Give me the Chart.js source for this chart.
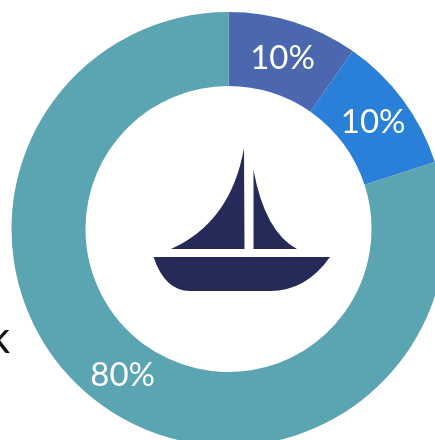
<!DOCTYPE html>
<html>
<head>
<meta charset="utf-8">
<script src="https://cdn.jsdelivr.net/npm/chart.js@4"></script>
<style>
html, body { margin: 0; padding: 0; background: #fff; overflow: hidden; width: 435px; height: 440px; }
#donut { position: absolute; left: 0; top: 0; }
#boat { position: absolute; left: 0; top: 0; }
#cut { position: absolute; left: -16px; top: 306px; width: 26px; text-align: right; font: 400 44px Lato, sans-serif; color: #111; line-height: 60px; }
</style>
</head>
<body>
<canvas id="donut" width="457" height="458"></canvas>
<svg id="boat" width="435" height="440" fill="#262a58">
    <path d="M244 148 L244.5 249 L171 249 Q231 222 244 148 Z"/>
    <path d="M253.5 170 L253.5 249 L297 249 Q265 232 253.5 170 Z"/>
    <path d="M153.5 257 L330 257 Q306 291 270 291 L190 291 Q165 291 153.5 257 Z"/>
</svg>
<div id="cut">k</div>
<script>
const labels = ['A', 'B', 'C'];
// slice sizes, the printed labels are rounded
const values = [9.7, 10.3, 80];
const valueLabels = ['10%', '10%', '80%'];
const colors = ['#4a67af', '#2a7fd8', '#5ba4b2'];

const sliceLabels = {
    id: 'sliceLabels',
    afterDatasetsDraw(chart) {
        const ctx = chart.ctx;
        ctx.save();
        ctx.fillStyle = '#fff';
        ctx.font = '400 33px Lato, sans-serif';
        ctx.textAlign = 'center';
        ctx.textBaseline = 'middle';
        chart.getDatasetMeta(0).data.forEach(function (arc, i) {
            const p = arc.getCenterPoint();
            ctx.fillText(valueLabels[i], p.x, p.y + 1);
        });
        ctx.restore();
    }
};

new Chart(document.getElementById('donut').getContext('2d'), {
    type: 'doughnut',
    data: {
        labels: labels,
        datasets: [{
            data: values,
            backgroundColor: colors,
            borderWidth: 0
        }]
    },
    options: {
        responsive: false,
        maintainAspectRatio: false,
        animation: false,
        radius: 217,
        cutout: '65.9%',
        plugins: { legend: { display: false }, tooltip: { enabled: false } }
    },
    plugins: [sliceLabels]
});
</script>
</body>
</html>
